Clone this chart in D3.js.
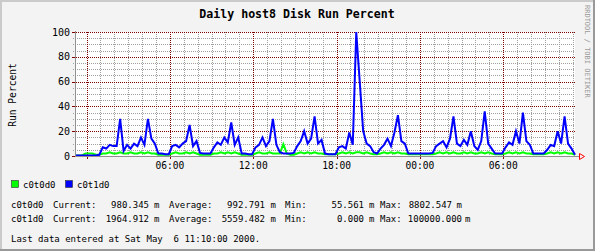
<!DOCTYPE html>
<html>
<head>
    <meta charset="utf-8">
    <title>Daily host8 Disk Run Percent</title>
    <script src="https://d3js.org/d3.v7.min.js"></script>
</head>
<style>
    body { margin: 0; background: #f3f3f3; }
    text { font-family: "DejaVu Sans Mono", monospace; white-space: pre; }
</style>
<body>
    <div id="chart"></div>
    <script>
        // 15 minute samples starting Thu May 4 23:10 2000 (UTC used to avoid tz shifts)
        var startTime = Date.UTC(2000, 4, 4, 23, 10);
        var stepMinutes = 15;

        var c0t0d0 = [0.5,0.5,0.5,2,2,2,1,1,
            2,2,3,2,2,3,2,2,3,2,2,3,2,3,2,2,
            1,1,1,1,
            2,3,2,2,3,2,3,2,
            1,1,1,1,
            2,2,3,2,3,2,3,2,
            1,1,1,1,
            2,3,2,2,3,2,2,
            2,9.5,2,1,1,
            2,3,2,3,2,3,2,2,
            1.5,1.5,1.5,1.5,
            2,3,2,3,2,3,3,2,3,2,
            1.5,1.5,
            2,3,2,3,2,3,2,2,
            1.5,1.5,1.5,1.5,1.5,1.5,1.5,1.5,
            2,3,2,3,2,3,2,2,3,2,3,2,2,3,2,3,2,
            1.5,1.5,1.5,
            2,3,2,3,2,3,2,2,
            1.5,1.5,1.5,1.5,
            2,3,2,3,2,3,2,2,
            1];

        var c0t1d0 = [0.5,0.5,0.5,0.5,0.5,0.5,0.5,1,
            7,6,9,8,8,30,4,9,6,10,8,15,9,30,14,10,
            2,2,1.5,1.5,
            8,9,7,10,12,25,8,12,
            2.5,2,2,2,
            7,11,9,15,11,27,9,15,
            2,2,1.5,1.5,
            7,9,15,8,12,30,9,
            3,2,2,2,2.5,
            8,12,20,10,14,32,10,13,
            2,1.5,1.5,1.5,
            7,8,6,19,9,100,60,20,10,8,
            3,2,
            6,9,14,8,19,33,12,10,
            2,2,2,2,2,2,2,2.5,
            8,10,12,7,14,32,10,8,13,9,20,8,5,12,36,10,6,
            2,2,2,
            7,11,9,20,10,35,12,9,
            2,2,2,2,
            5,9,8,20,10,32,10,6,
            1];

        var yTicks = [0, 20, 40, 60, 80, 100];
        var xTickLabels = ["", "06:00", "12:00", "18:00", "00:00", "06:00"];

        var legendNames = ["c0t0d0", "c0t1d0"];
        var legendColors = ["#00ff00", "#0000ff"];
        var statCurrent = ["980.345", "1964.912"];
        var statAverage = ["992.791", "5559.482"];
        var statMin = ["55.561", "0.000"];
        var statMax = ["8802.547", "100000.000"];

        var width = 595, height = 251;
        var plotLeft = 75, plotRight = 575, plotTop = 32, plotBottom = 156;
        var smallFont = "9px";

        var svg = d3.select("#chart").append("svg")
            .attr("width", width)
            .attr("height", height);

        // background and 3d border
        svg.append("rect").attr("width", width).attr("height", height).attr("fill", "#f3f3f3");
        svg.append("rect").attr("x", 0).attr("y", 0).attr("width", width).attr("height", 2).attr("fill", "#cacaca");
        svg.append("rect").attr("x", 0).attr("y", 0).attr("width", 2).attr("height", height).attr("fill", "#cacaca");
        svg.append("rect").attr("x", width - 2).attr("y", 0).attr("width", 2).attr("height", height).attr("fill", "#999999");
        svg.append("rect").attr("x", 0).attr("y", height - 2).attr("width", width).attr("height", 2).attr("fill", "#999999");

        var x = d3.scaleUtc()
            .domain([startTime, startTime + 36 * 3600 * 1000])
            .range([plotLeft, plotRight]);
        var y = d3.scaleLinear().domain([0, 100]).range([plotBottom, plotTop]);

        // plot canvas
        svg.append("rect").attr("x", plotLeft).attr("y", plotTop)
            .attr("width", plotRight - plotLeft).attr("height", plotBottom - plotTop)
            .attr("fill", "#ffffff");

        // grid: minor every hour / every 5%, major every 6h / 20%
        var hours = d3.utcHour.range(x.domain()[0], x.domain()[1]);
        var majorHours = hours.filter(function(d) { return d.getUTCHours() % 6 === 0; });
        var minorHours = hours.filter(function(d) { return d.getUTCHours() % 6 !== 0; });
        var minorY = d3.range(5, 100, 5).filter(function(v) { return v % 20 !== 0; });

        var grid = svg.append("g").attr("shape-rendering", "crispEdges");
        grid.selectAll(".vmin").data(minorHours).enter().append("line")
            .attr("x1", function(d) { return Math.round(x(d)) + 0.5; })
            .attr("x2", function(d) { return Math.round(x(d)) + 0.5; })
            .attr("y1", plotTop).attr("y2", plotBottom + 2)
            .attr("stroke", "#a0a0a0").attr("stroke-dasharray", "1,1");
        grid.selectAll(".hmin").data(minorY).enter().append("line")
            .attr("x1", plotLeft - 2).attr("x2", plotRight)
            .attr("y1", function(d) { return Math.round(y(d)) + 0.5; })
            .attr("y2", function(d) { return Math.round(y(d)) + 0.5; })
            .attr("stroke", "#a0a0a0").attr("stroke-dasharray", "1,1");
        grid.selectAll(".vmaj").data(majorHours).enter().append("line")
            .attr("x1", function(d) { return Math.round(x(d)) + 0.5; })
            .attr("x2", function(d) { return Math.round(x(d)) + 0.5; })
            .attr("y1", plotTop).attr("y2", plotBottom + 3)
            .attr("stroke", "#800000").attr("stroke-dasharray", "1,1");
        grid.selectAll(".hmaj").data(yTicks.filter(function(v) { return v > 0; })).enter().append("line")
            .attr("x1", plotLeft - 3).attr("x2", plotRight)
            .attr("y1", function(d) { return Math.round(y(d)) + 0.5; })
            .attr("y2", function(d) { return Math.round(y(d)) + 0.5; })
            .attr("stroke", "#800000").attr("stroke-dasharray", "1,1");
        // major tick marks (solid)
        grid.selectAll(".ytk").data(yTicks).enter().append("line")
            .attr("x1", plotLeft - 3).attr("x2", plotLeft + 2)
            .attr("y1", function(d) { return Math.round(y(d)) + 0.5; })
            .attr("y2", function(d) { return Math.round(y(d)) + 0.5; })
            .attr("stroke", "#800000");
        grid.selectAll(".xtk").data(majorHours).enter().append("line")
            .attr("x1", function(d) { return Math.round(x(d)) + 0.5; })
            .attr("x2", function(d) { return Math.round(x(d)) + 0.5; })
            .attr("y1", plotBottom - 2).attr("y2", plotBottom + 3)
            .attr("stroke", "#800000");

        // data lines
        var line = d3.line()
            .x(function(d, i) { return x(startTime + i * stepMinutes * 60000); })
            .y(function(d) { return y(d); });

        [c0t0d0, c0t1d0].forEach(function(series, k) {
            svg.append("path")
                .datum(series)
                .attr("d", line)
                .attr("fill", "none")
                .attr("stroke", legendColors[k])
                .attr("stroke-width", 2)
                .attr("stroke-linejoin", "miter");
        });

        // axes
        svg.append("line").attr("x1", plotLeft + 0.5).attr("x2", plotLeft + 0.5)
            .attr("y1", plotTop - 1).attr("y2", plotBottom + 1)
            .attr("stroke", "#909090").attr("shape-rendering", "crispEdges");
        svg.append("line").attr("x1", plotLeft).attr("x2", plotRight + 4)
            .attr("y1", plotBottom + 0.5).attr("y2", plotBottom + 0.5)
            .attr("stroke", "#909090").attr("shape-rendering", "crispEdges");
        svg.append("path")
            .attr("d", "M" + (plotRight + 4.5) + "," + (plotBottom - 2.5) + " L" + (plotRight + 9.5) + "," + (plotBottom + 0.5) +
                " L" + (plotRight + 4.5) + "," + (plotBottom + 3.5) + " Z")
            .attr("fill", "none").attr("stroke", "#ff0000");

        // y tick labels
        svg.selectAll(".ylab").data(yTicks).enter().append("text")
            .attr("x", plotLeft - 5)
            .attr("y", function(d) { return y(d) + 3.5; })
            .attr("text-anchor", "end")
            .attr("font-size", "10px")
            .text(function(d) { return d; });

        // x tick labels
        svg.selectAll(".xlab").data(majorHours).enter().append("text")
            .attr("x", function(d) { return x(d); })
            .attr("y", 169)
            .attr("text-anchor", "middle")
            .attr("font-size", "9.6px")
            .text(function(d, i) { return xTickLabels[i]; });

        // title and labels
        svg.append("text").attr("x", 297).attr("y", 18)
            .attr("text-anchor", "middle")
            .attr("font-size", "11.6px").attr("font-weight", "bold")
            .text("Daily host8 Disk Run Percent");
        svg.append("text")
            .attr("transform", "translate(16,95) rotate(-90)")
            .attr("text-anchor", "middle")
            .attr("font-size", "9.6px")
            .text("Run Percent");
        svg.append("text")
            .attr("transform", "translate(585,5) rotate(90)")
            .attr("font-size", "7px")
            .attr("fill", "#999999")
            .text("RRDTOOL / TOBI OETIKER");

        // legend
        legendNames.forEach(function(name, k) {
            var lx = k === 0 ? 11 : 65;
            svg.append("rect").attr("x", lx + 0.5).attr("y", 180.5)
                .attr("width", 7).attr("height", 7)
                .attr("fill", legendColors[k]).attr("stroke", "#333333").attr("stroke-width", 0.6);
            svg.append("text").attr("x", lx + 12).attr("y", 188)
                .attr("font-size", smallFont).text(name);
        });

        // statistics rows
        var rows = svg.selectAll(".stat").data(legendNames).enter().append("g")
            .attr("transform", function(d, i) { return "translate(0," + (208 + i * 13.5) + ")"; })
            .attr("font-size", smallFont);
        rows.append("text").attr("x", 11).text(function(d) { return d; });
        rows.append("text").attr("x", 53).text("Current:");
        rows.append("text").attr("x", 149).attr("text-anchor", "end").text(function(d, i) { return statCurrent[i]; });
        rows.append("text").attr("x", 154).text("m");
        rows.append("text").attr("x", 169).text("Average:");
        rows.append("text").attr("x", 265).attr("text-anchor", "end").text(function(d, i) { return statAverage[i]; });
        rows.append("text").attr("x", 270.5).text("m");
        rows.append("text").attr("x", 285).text("Min:");
        rows.append("text").attr("x", 364).attr("text-anchor", "end").text(function(d, i) { return statMin[i]; });
        rows.append("text").attr("x", 369).text("m");
        rows.append("text").attr("x", 380).text("Max:");
        rows.append("text").attr("x", function(d, i) { return i === 0 ? 452 : 462; })
            .attr("text-anchor", "end").text(function(d, i) { return statMax[i]; });
        rows.append("text").attr("x", function(d, i) { return i === 0 ? 456.5 : 465; }).text("m");

        svg.append("text").attr("x", 11).attr("y", 241.5)
            .attr("font-size", smallFont)
            .text("Last data entered at Sat May  6 11:10:00 2000.");
    </script>
</body>
</html>
